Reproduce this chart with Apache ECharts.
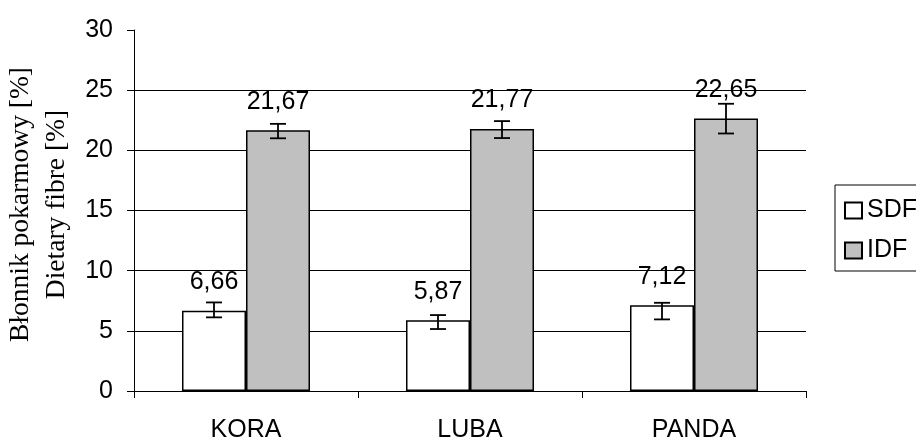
<!DOCTYPE html>
<html>
<head>
<meta charset="utf-8">
<script src="https://cdn.jsdelivr.net/npm/echarts@6/dist/echarts.min.js"></script>
<style>
  html, body { margin: 0; padding: 0; background: #fff; }
  #chart { width: 916px; height: 438px; }
</style>
</head>
<body>
<div id="chart"></div>
<script>
// varieties and measured values (Błonnik pokarmowy / dietary fibre)
const categories = ['KORA', 'LUBA', 'PANDA'];
const sdfValues = [6.66, 5.87, 7.12];
const idfValues = [21.67, 21.77, 22.65];
// error bar ends [low, high]
const sdfErrors = [[6.12, 7.36], [5.15, 6.31], [5.95, 7.33]];
const idfErrors = [[21.0, 22.2], [21.02, 22.43], [21.4, 23.87]];
const yTicks = [0, 5, 10, 15, 20, 25, 30];

const font = '"Liberation Sans", Arial, sans-serif';
const barW = 64;

function fmt(v) {
    return v.toFixed(2).replace('.', ',');
}

// I-beam error bar drawn at offset from category centre
function errorBar(offset) {
    return function (params, api) {
        const idx = api.value(0);
        const lo = api.coord([idx, api.value(1)]);
        const hi = api.coord([idx, api.value(2)]);
        const x = lo[0] + offset;
        const half = 8;
        const style = { stroke: '#000', lineWidth: 1.8 };
        return {
            type: 'group',
            children: [
                { type: 'line', shape: { x1: x, y1: lo[1], x2: x, y2: hi[1] }, style: style },
                { type: 'line', shape: { x1: x - half, y1: lo[1], x2: x + half, y2: lo[1] }, style: style },
                { type: 'line', shape: { x1: x - half, y1: hi[1], x2: x + half, y2: hi[1] }, style: style }
            ]
        };
    };
}

var chart = echarts.init(document.getElementById('chart'), null, { renderer: 'canvas' });
var option = {
    animation: false,
    grid: { left: 134, right: 110, top: 30, bottom: 47, outerBoundsMode: 'none', containLabel: false },
    legend: {
        orient: 'vertical',
        left: 835,
        top: 185,
        padding: [13, 40, 8, 9],
        icon: 'rect',
        itemWidth: 17,
        itemHeight: 16,
        itemGap: 15,
        borderColor: '#000',
        borderWidth: 1,
        textStyle: { fontFamily: font, fontSize: 25, color: '#000' },
        data: ['SDF', 'IDF']
    },
    xAxis: {
        type: 'category',
        data: categories,
        axisLine: { lineStyle: { color: '#000', width: 1 } },
        axisTick: { show: true, length: 7, lineStyle: { color: '#000' } },
        axisLabel: { margin: 27, fontFamily: font, fontSize: 25, color: '#000' }
    },
    yAxis: {
        type: 'value',
        min: yTicks[0],
        max: yTicks[yTicks.length - 1],
        interval: 5,
        name: 'Błonnik pokarmowy [%]\nDietary fibre [%]',
        nameLocation: 'middle',
        nameRotate: 90,
        nameGap: 87,
        nameTextStyle: {
            fontFamily: '"Liberation Serif", "Times New Roman", serif',
            fontSize: 27.5,
            lineHeight: 36,
            color: '#000',
            align: 'center',
            verticalAlign: 'middle',
            padding: [0, 0, 0, 12]
        },
        axisLine: { show: true, lineStyle: { color: '#000', width: 1 } },
        axisTick: { show: true, length: 7, lineStyle: { color: '#000' } },
        axisLabel: { margin: 21, fontFamily: font, fontSize: 25, color: '#000' },
        splitLine: {
            show: true,
            showMaxLine: false,
            lineStyle: { color: '#000', width: 1 }
        }
    },
    series: [
        {
            name: 'SDF',
            type: 'bar',
            data: sdfValues,
            barWidth: barW,
            barGap: '0%',
            itemStyle: { color: '#fff', borderColor: '#000', borderWidth: 1.5 },
            label: {
                show: true, position: 'top', distance: 16,
                fontFamily: font, fontSize: 25, color: '#000',
                formatter: function (p) { return fmt(p.value); }
            },
            z: 2
        },
        {
            name: 'IDF',
            type: 'bar',
            data: idfValues,
            barWidth: barW,
            barGap: '0%',
            itemStyle: { color: '#c0c0c0', borderColor: '#000', borderWidth: 1.5 },
            label: {
                show: true, position: 'top', distance: 16,
                fontFamily: font, fontSize: 25, color: '#000',
                formatter: function (p) { return fmt(p.value); }
            },
            z: 2
        },
        {
            name: 'SDF err',
            type: 'custom',
            renderItem: errorBar(-barW / 2),
            data: sdfErrors.map(function (e, i) { return [i, e[0], e[1]]; }),
            encode: { x: 0, y: [1, 2] },
            z: 5,
            silent: true
        },
        {
            name: 'IDF err',
            type: 'custom',
            renderItem: errorBar(barW / 2),
            data: idfErrors.map(function (e, i) { return [i, e[0], e[1]]; }),
            encode: { x: 0, y: [1, 2] },
            z: 5,
            silent: true
        }
    ]
};
option && chart.setOption(option);
</script>
</body>
</html>
